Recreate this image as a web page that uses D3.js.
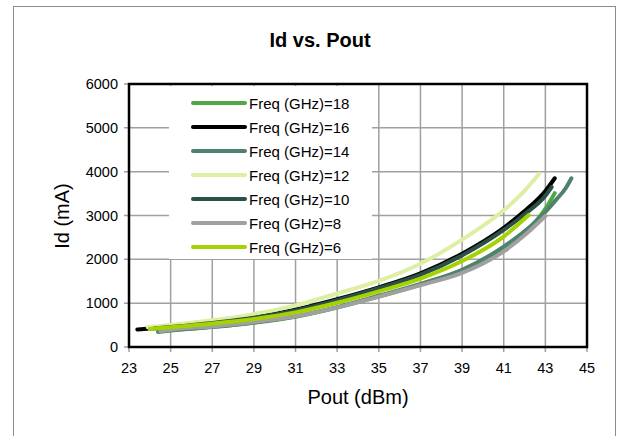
<!DOCTYPE html>
<html>
<head>
<meta charset="UTF-8">
<title>Id vs. Pout</title>
<script src="https://cdn.jsdelivr.net/npm/d3@7"></script>
<style>
  body { margin: 0; background: #fff; }
  svg text { font-family: "Liberation Sans", Arial, Helvetica, sans-serif; }
</style>
</head>
<body>
<div id="chart"></div>
<script>
// series names (legend order) and colours
var seriesNames = ["Freq (GHz)=18", "Freq (GHz)=16", "Freq (GHz)=14", "Freq (GHz)=12",
                   "Freq (GHz)=10", "Freq (GHz)=8", "Freq (GHz)=6"];
var seriesColors = ["#4ea845", "#000000", "#4f826c", "#dcefa3", "#2a5048", "#a0a0a0", "#a5d200"];

// [Pout dBm, Id mA]
var f18 = [[24.4,340],[25,375],[27,455],[29,555],[31,690],[33,900],[35,1150],[37,1420],[39,1720],[41,2240],[42,2600],[42.6,2900],[43,3150],[43.45,3510]];
var f16 = [[23.4,400],[24,420],[25,460],[27,555],[29,675],[31,850],[33,1090],[35,1360],[37,1680],[39,2130],[41,2720],[42,3100],[43,3560],[43.45,3850]];
var f14 = [[24.4,350],[25,380],[27,460],[29,560],[31,700],[33,910],[35,1170],[37,1440],[39,1760],[41,2290],[42,2640],[43,3080],[43.5,3350],[44,3640],[44.25,3850]];
var f12 = [[23.9,450],[25,505],[27,610],[29,750],[31,950],[33,1220],[35,1510],[37,1900],[39,2450],[41,3120],[42,3560],[42.7,3950]];
var f10 = [[24.2,420],[25,455],[27,550],[29,665],[31,835],[33,1070],[35,1340],[37,1650],[39,2090],[41,2670],[42,3030],[43,3450],[43.3,3650]];
var f8  = [[24.5,360],[25,395],[27,470],[29,570],[31,700],[33,900],[35,1150],[37,1410],[39,1690],[41,2180],[42,2550],[43,2990]];
var f6  = [[24.0,410],[25,450],[27,535],[29,640],[31,790],[33,1010],[35,1270],[37,1560],[39,1960],[41,2520],[42.2,3010]];
var seriesData = [f18, f16, f14, f12, f10, f8, f6];

var xTicks = [23, 25, 27, 29, 31, 33, 35, 37, 39, 41, 43, 45];
var yTicks = [0, 1000, 2000, 3000, 4000, 5000, 6000];

var W = 626, H = 436;
var svg = d3.select("#chart").append("svg")
  .attr("width", W).attr("height", H)
  .attr("font-family", "'Liberation Sans', Arial, sans-serif");

// outer chart border
svg.append("rect")
  .attr("x", 13.5).attr("y", 6.5).attr("width", 602).attr("height", 440)
  .attr("fill", "#fff").attr("stroke", "#8c8c8c").attr("stroke-width", 1);

var x = d3.scaleLinear().domain([23, 45]).range([129, 587]);
var y = d3.scaleLinear().domain([0, 6000]).range([347, 84]);

// gridlines
svg.append("g").selectAll("line").data(xTicks).enter().append("line")
  .attr("x1", function(d){ return x(d); }).attr("x2", function(d){ return x(d); })
  .attr("y1", y(6000)).attr("y2", y(0) + 5)
  .attr("stroke", "#a0a0a0").attr("stroke-width", 1.5);
svg.append("g").selectAll("line").data(yTicks).enter().append("line")
  .attr("x1", x(23) - 5).attr("x2", x(45))
  .attr("y1", function(d){ return y(d); }).attr("y2", function(d){ return y(d); })
  .attr("stroke", "#a0a0a0").attr("stroke-width", 1.5);

// legend background (covers gridlines)
var lg = svg.append("g");
lg.append("rect").attr("x", 169).attr("y", 86).attr("width", 203).attr("height", 173)
  .attr("fill", "#fff");

// plot area border
svg.append("rect")
  .attr("x", x(23)).attr("y", y(6000))
  .attr("width", x(45) - x(23)).attr("height", y(0) - y(6000))
  .attr("fill", "none").attr("stroke", "#000").attr("stroke-width", 2.5);

// axis labels
svg.append("g").selectAll("text").data(xTicks).enter().append("text")
  .attr("x", function(d){ return x(d); }).attr("y", 373)
  .attr("text-anchor", "middle").attr("font-size", 14.5).attr("fill", "#000")
  .text(function(d){ return d; });
svg.append("g").selectAll("text").data(yTicks).enter().append("text")
  .attr("x", 118).attr("y", function(d){ return y(d) + 5; })
  .attr("text-anchor", "end").attr("font-size", 14.5).attr("fill", "#000")
  .text(function(d){ return d; });

// lines
var line = d3.line()
  .x(function(d){ return x(d[0]); })
  .y(function(d){ return y(d[1]); })
  .curve(d3.curveMonotoneX);

svg.append("g").selectAll("path").data(seriesData).enter().append("path")
  .attr("d", line)
  .attr("fill", "none")
  .attr("stroke", function(d, i){ return seriesColors[i]; })
  .attr("stroke-width", 4)
  .attr("stroke-linecap", "round")
  .attr("stroke-linejoin", "round");

// legend entries
var items = lg.selectAll("g.item").data(seriesNames).enter().append("g")
  .attr("transform", function(d, i){ return "translate(0," + (103 + i * 24) + ")"; });
items.append("line")
  .attr("x1", 193).attr("x2", 245).attr("y1", 0).attr("y2", 0)
  .attr("stroke", function(d, i){ return seriesColors[i]; })
  .attr("stroke-width", 4).attr("stroke-linecap", "round");
items.append("text")
  .attr("x", 249).attr("y", 5.5).attr("font-size", 15).attr("fill", "#000")
  .text(function(d){ return d; });

// titles
svg.append("text").attr("x", 320).attr("y", 47)
  .attr("text-anchor", "middle").attr("font-size", 20).attr("font-weight", "bold")
  .text("Id vs. Pout");
svg.append("text").attr("x", 358).attr("y", 404)
  .attr("text-anchor", "middle").attr("font-size", 20)
  .text("Pout (dBm)");
svg.append("text")
  .attr("transform", "translate(69,216) rotate(-90)")
  .attr("text-anchor", "middle").attr("font-size", 20)
  .text("Id (mA)");
</script>
</body>
</html>
